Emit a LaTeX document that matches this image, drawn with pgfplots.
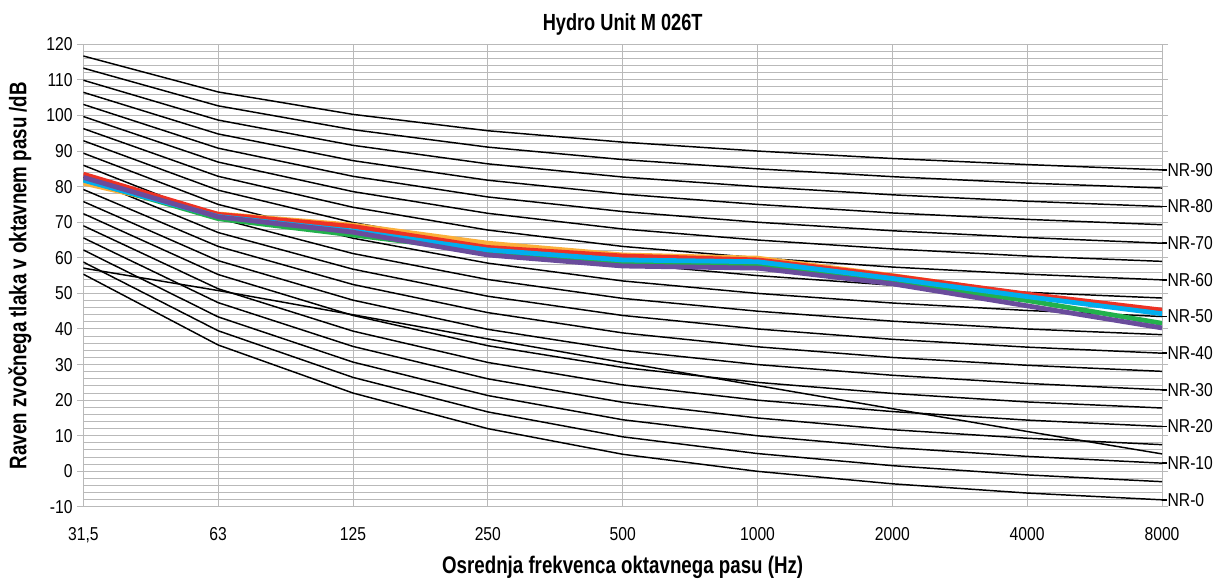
\documentclass[border=0pt]{standalone}
\usepackage{pgfplots}
\pgfplotsset{compat=1.18}
\usepackage{pgfplotstable}
\usepackage{fontspec}
\setmainfont{Liberation Sans}
\newfontfamily\narrowfont[FakeStretch=0.78]{Liberation Sans}
\newfontfamily\tickfont[FakeStretch=0.84]{Liberation Sans}

\definecolor{cred}{RGB}{237,50,36}
\definecolor{corange}{RGB}{251,176,59}
\definecolor{cgreen}{RGB}{34,177,76}
\definecolor{ccyan}{RGB}{0,174,239}
\definecolor{cpurple}{RGB}{106,76,156}
\definecolor{gridgray}{RGB}{185,185,185}

% NR curves every 5 dB, plus the odd crossing line (ext)
\pgfplotstableread{
x nr0 nr5 nr10 nr15 nr20 nr25 nr30 nr35 nr40 nr45 nr50 nr55 nr60 nr65 nr70 nr75 nr80 nr85 nr90 ext
0 55.4 58.8 62.2 65.6 69.0 72.4 75.8 79.2 82.6 86.0 89.4 92.9 96.3 99.7 103.1 106.5 109.9 113.3 116.7 57.1
1 35.5 39.5 43.4 47.4 51.3 55.3 59.2 63.2 67.1 71.1 75.0 79.0 82.9 86.9 90.8 94.8 98.7 102.7 106.6 50.8
2 22.0 26.4 30.7 35.1 39.4 43.8 48.1 52.5 56.8 61.2 65.5 69.9 74.2 78.6 82.9 87.3 91.6 96.0 100.3 44.0
3 12.0 16.7 21.3 26.0 30.6 35.3 39.9 44.6 49.2 53.9 58.5 63.2 67.8 72.5 77.1 81.8 86.4 91.1 95.7 37.2
4 4.8 9.7 14.5 19.4 24.3 29.2 34.0 38.9 43.8 48.6 53.5 58.4 63.2 68.1 73.0 77.9 82.7 87.6 92.5 30.6
5 0.0 5.0 10.0 15.0 20.0 25.0 30.0 35.0 40.0 45.0 50.0 55.0 60.0 65.0 70.0 75.0 80.0 85.0 90.0 24.1
6 -3.5 1.6 6.7 11.7 16.8 21.9 27.0 32.0 37.1 42.2 47.3 52.3 57.4 62.5 67.6 72.6 77.7 82.8 87.9 17.6
7 -6.1 -1.0 4.2 9.3 14.4 19.5 24.7 29.8 34.9 40.0 45.2 50.3 55.4 60.5 65.7 70.8 75.9 81.0 86.2 11.2
8 -8.0 -2.9 2.3 7.5 12.6 17.8 22.9 28.1 33.2 38.4 43.5 48.7 53.8 59.0 64.1 69.3 74.4 79.6 84.7 4.9
}\nrtable

% measured unit spectra
\pgfplotstableread{
x red orange green cyan purple
0 83.5 81.0 82.0 81.8 82.6
1 72.2 72.3 71.0 71.6 71.5
2 68.8 69.2 66.4 67.5 67.2
3 62.9 64.1 61.8 62.2 60.8
4 60.5 60.8 58.5 59.4 57.7
5 59.4 59.9 57.7 58.9 57.1
6 54.9 55.0 53.0 54.2 52.7
7 49.8 49.6 48.0 49.1 46.5
8 45.3 44.8 41.6 44.3 40.3
}\unittable

\begin{document}
\begin{tikzpicture}
\begin{axis}[
    name=main,
    scale only axis,
    width=809pt, height=347pt,
    xmin=0, xmax=8, ymin=-10, ymax=120,
    xtick={0,...,8},
    xticklabels={{31,5},63,125,250,500,1000,2000,4000,8000},
    ytick={-10,0,...,120},
    minor y tick num=4,
    grid=both,
    major grid style={gridgray, line width=0.75pt},
    minor grid style={gridgray, line width=0.75pt},
    axis line style={gridgray, line width=0.75pt},
    tick align=outside,
    major tick length=4.5pt,
    minor tick length=0pt,
    xtick style={draw=none},
    ytick style={gridgray, line width=0.75pt},
    /pgf/number format/assume math mode=true,
    ticklabel style={font=\tickfont\fontsize{14}{16}\selectfont, text=black},
    xticklabel style={anchor=base, yshift=-20.3pt},
    title={Hydro Unit M 026T},
    title style={font=\narrowfont\bfseries\fontsize{17.5}{19}\selectfont, at={(axis description cs:0.5,1)}, anchor=center, yshift=8.5pt},
    xlabel={Osrednja frekvenca oktavnega pasu (Hz)},
    xlabel style={font=\narrowfont\bfseries\fontsize{18}{20}\selectfont, at={(axis description cs:0.5,0)}, anchor=center, yshift=-45pt},
    ylabel={Raven zvočnega tlaka v oktavnem pasu /dB},
    ylabel style={font=\narrowfont\bfseries\fontsize{18}{20}\selectfont, at={(axis description cs:0,0.5)}, anchor=center, yshift=47.5pt},
    clip=true,
]
\pgfplotsinvokeforeach{0,5,...,90}{
    \addplot[black, line width=1.1pt] table[x=x, y=nr#1] {\nrtable};
}
\addplot[black, line width=1.1pt] table[x=x, y=ext] {\nrtable};

\addplot[corange, line width=3.6pt] table[x=x, y=orange] {\unittable};
\addplot[cred, line width=3.6pt] table[x=x, y=red] {\unittable};
\addplot[cgreen, line width=3.6pt] table[x=x, y=green] {\unittable};
\addplot[ccyan, line width=3.6pt] table[x=x, y=cyan] {\unittable};
\addplot[cpurple, line width=3.6pt] table[x=x, y=purple] {\unittable};
\end{axis}

\begin{axis}[
    scale only axis,
    width=809pt, height=347pt,
    xmin=0, xmax=8, ymin=-10, ymax=120,
    axis y line*=right,
    axis x line=none,
    axis line style={draw=none},
    ytick={-8.0,2.3,12.6,22.9,33.2,43.5,53.8,64.1,74.4,84.7},
    yticklabels={NR-0,NR-10,NR-20,NR-30,NR-40,NR-50,NR-60,NR-70,NR-80,NR-90},
    tick align=outside,
    major tick length=3.5pt,
    ytick style={black, line width=1.1pt},
    yticklabel style={font=\tickfont\fontsize{14}{16}\selectfont, inner sep=0.5pt},
]
\end{axis}

\pgfresetboundingbox
\path ([xshift=-62.5pt, yshift=-56.2pt]main.south west) rectangle ([xshift=39.75pt, yshift=33.2pt]main.north east);
\end{tikzpicture}
\end{document}
